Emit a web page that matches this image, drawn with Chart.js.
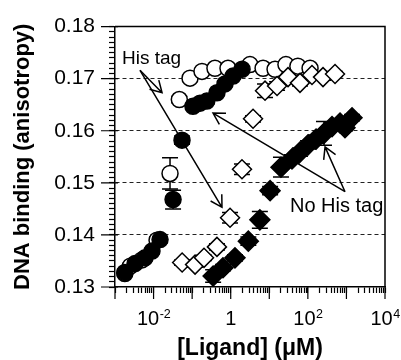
<!DOCTYPE html>
<html>
<head>
<meta charset="utf-8">
<script src="https://cdn.jsdelivr.net/npm/chart.js@4.4.1/dist/chart.umd.min.js"></script>
<style>
  html, body { margin: 0; padding: 0; background: #fff; }
</style>
</head>
<body>
<canvas id="chart" width="401" height="360"></canvas>
<script>
const FONT = "'Liberation Sans', Arial, Helvetica, sans-serif";

// ligand concentration (uM) and anisotropy
// open circles: His tag
const hisCircleX = [0.0018, 0.0025, 0.005, 0.0123, 0.0267, 0.0465, 0.088, 0.18, 0.39, 0.85, 3.16, 6.9, 14.1, 27, 55, 114];
const hisCircleY = [0.1326, 0.1340, 0.1352, 0.1390, 0.1518, 0.1660, 0.1701, 0.1714, 0.1720, 0.1720, 0.1727, 0.1720, 0.1718, 0.1727, 0.1724, 0.1720];
const hisCircleErr = [0.0005, 0.0005, 0.0005, 0.0006, 0.003, 0.0006, 0.0005, 0.0005, 0.0005, 0.0005, 0.0005, 0.0005, 0.0005, 0.0005, 0.0005, 0.0005];

// filled circles: no His tag
const noHisCircleX = [0.0018, 0.0033, 0.006, 0.0091, 0.0147, 0.032, 0.0546, 0.105, 0.16, 0.24, 0.44, 0.71, 1.15, 1.97];
const noHisCircleY = [0.1328, 0.1345, 0.1356, 0.1369, 0.1391, 0.1468, 0.1582, 0.1647, 0.1653, 0.1657, 0.1673, 0.1690, 0.1705, 0.1718];
const noHisCircleErr = [0.0006, 0.0005, 0.0005, 0.0005, 0.0006, 0.0018, 0.0008, 0.0005, 0.0005, 0.0005, 0.0005, 0.0005, 0.0005, 0.0005];

// open diamonds: His tag
const hisDiamondX = [0.055, 0.119, 0.203, 0.44, 0.96, 1.96, 3.79, 7.75, 15.9, 30.6, 62.5, 128, 247, 506];
const hisDiamondY = [0.1347, 0.1343, 0.1356, 0.1377, 0.1433, 0.1526, 0.1623, 0.1677, 0.1686, 0.1703, 0.1692, 0.1707, 0.1703, 0.1709];
const hisDiamondErr = [0.0005, 0.0005, 0.0005, 0.0006, 0.001, 0.001, 0.0006, 0.0013, 0.0008, 0.0008, 0.0006, 0.0006, 0.0006, 0.0005];

// filled diamonds: no His tag
const noHisDiamondX = [0.35, 0.63, 1.29, 2.86, 5.7, 10.5, 20.1, 38.8, 62.5, 101, 163, 262, 423, 682, 918, 1397];
const noHisDiamondY = [0.1321, 0.1337, 0.1356, 0.1388, 0.1429, 0.1485, 0.1530, 0.1546, 0.1559, 0.1573, 0.1584, 0.1595, 0.1608, 0.1615, 0.1606, 0.1625];
const noHisDiamondErr = [0.0012, 0.0006, 0.0006, 0.0008, 0.0016, 0.0008, 0.0019, 0.0008, 0.0008, 0.0008, 0.0008, 0.0023, 0.0008, 0.0006, 0.0006, 0.0006];

// axes
const yMajorTicks = [0.13, 0.14, 0.15, 0.16, 0.17, 0.18];
const xDecades = [-3, -2, -1, 0, 1, 2, 3, 4];
const xLabelled = [-2, 0, 2, 4];

// annotations (data coordinates)
const hisTagText = { text: 'His tag', x: 0.00152, y: 0.17275 };
const noHisTagText = { text: 'No His tag', x: 34.4, y: 0.14437 };
const arrows = [
  { from: [0.00445, 0.1716], to: [0.0166, 0.1673] },
  { from: [0.00445, 0.1716], to: [0.594, 0.1453] },
  { from: [918, 0.1483], to: [0.3475, 0.1634] },
  { from: [918, 0.1483], to: [279, 0.1569] }
];

const toPoints = (xs, ys) => xs.map((x, i) => ({ x: x, y: ys[i] }));

// minor ticks
const yTickValues = [];
for (let i = 0; i <= 50; i++) yTickValues.push(Math.round((0.13 + i * 0.001) * 1000) / 1000);
const isMajorY = v => Math.round(v * 1000) % 10 === 0;
const xTickValues = [];
xDecades.forEach(e => {
  for (let m = 1; m <= 9; m++) {
    if (e === 4 && m > 1) break;
    xTickValues.push(m * Math.pow(10, e));
  }
});

function drawArrow(ctx, x1, y1, x2, y2) {
  const ang = Math.atan2(y2 - y1, x2 - x1);
  const len = 13, spread = Math.PI / 6;
  ctx.beginPath();
  ctx.moveTo(x1, y1);
  ctx.lineTo(x2, y2);
  ctx.moveTo(x2 - len * Math.cos(ang - spread), y2 - len * Math.sin(ang - spread));
  ctx.lineTo(x2, y2);
  ctx.lineTo(x2 - len * Math.cos(ang + spread), y2 - len * Math.sin(ang + spread));
  ctx.stroke();
}

const extras = {
  id: 'extras',
  beforeDatasetsDraw(chart) {
    // error bars
    const { ctx, scales: { x, y } } = chart;
    ctx.save();
    ctx.strokeStyle = '#000';
    ctx.lineWidth = 1.5;
    chart.data.datasets.forEach(ds => {
      ds.data.forEach((p, j) => {
        const e = ds.err[j];
        const px = x.getPixelForValue(p.x);
        const top = y.getPixelForValue(p.y + e);
        const bot = y.getPixelForValue(p.y - e);
        ctx.beginPath();
        ctx.moveTo(px, top); ctx.lineTo(px, bot);
        ctx.moveTo(px - 8, top); ctx.lineTo(px + 8, top);
        ctx.moveTo(px - 8, bot); ctx.lineTo(px + 8, bot);
        ctx.stroke();
      });
    });
    ctx.restore();
  },
  afterDatasetsDraw(chart) {
    const { ctx, chartArea: a, scales: { x, y } } = chart;
    ctx.save();
    ctx.strokeStyle = '#000';
    ctx.lineWidth = 1.5;
    arrows.forEach(ar => {
      drawArrow(ctx,
        x.getPixelForValue(ar.from[0]), y.getPixelForValue(ar.from[1]),
        x.getPixelForValue(ar.to[0]), y.getPixelForValue(ar.to[1]));
    });
    ctx.fillStyle = '#000';
    ctx.textAlign = 'left';
    ctx.textBaseline = 'alphabetic';
    ctx.font = '19px ' + FONT;
    ctx.fillText(hisTagText.text, x.getPixelForValue(hisTagText.x), y.getPixelForValue(hisTagText.y));
    ctx.font = '20px ' + FONT;
    ctx.fillText(noHisTagText.text, x.getPixelForValue(noHisTagText.x), y.getPixelForValue(noHisTagText.y));

    // frame top and right
    ctx.beginPath();
    ctx.moveTo(a.left, a.top); ctx.lineTo(a.right, a.top); ctx.lineTo(a.right, a.bottom);
    ctx.stroke();

    // longer major ticks
    ctx.lineWidth = 1.2;
    ctx.beginPath();
    yMajorTicks.forEach(v => {
      const py = y.getPixelForValue(v);
      ctx.moveTo(a.left - 14, py); ctx.lineTo(a.left + 3, py);
    });
    xDecades.forEach(e => {
      const px = x.getPixelForValue(Math.pow(10, e));
      ctx.moveTo(px, a.bottom); ctx.lineTo(px, a.bottom + 12);
    });
    ctx.stroke();

    // x tick labels with superscript exponents
    const base = 325;
    xLabelled.forEach(e => {
      const px = x.getPixelForValue(Math.pow(10, e));
      ctx.textAlign = 'left';
      if (e === 0) {
        ctx.font = '20px ' + FONT;
        const w = ctx.measureText('1').width;
        ctx.fillText('1', px - w / 2, base);
        return;
      }
      const sup = String(e);
      ctx.font = '20px ' + FONT;
      const w1 = ctx.measureText('10').width;
      ctx.font = '12.5px ' + FONT;
      const w2 = ctx.measureText(sup).width;
      const left = px - (w1 + w2) / 2;
      ctx.font = '20px ' + FONT;
      ctx.fillText('10', left, base);
      ctx.font = '12.5px ' + FONT;
      ctx.fillText(sup, left + w1 + 0.5, base - 7);
    });
    ctx.restore();
  }
};

new Chart(document.getElementById('chart'), {
  type: 'scatter',
  data: {
    datasets: [
      {
        label: 'No His tag (diamonds)',
        data: toPoints(noHisDiamondX, noHisDiamondY),
        err: noHisDiamondErr,
        pointStyle: 'rectRot', pointRadius: 10,
        backgroundColor: '#000', borderColor: '#000', borderWidth: 1.5
      },
      {
        label: 'His tag (diamonds)',
        data: toPoints(hisDiamondX, hisDiamondY),
        err: hisDiamondErr,
        pointStyle: 'rectRot', pointRadius: 9.5,
        backgroundColor: '#fff', borderColor: '#000', borderWidth: 1.5
      },
      {
        label: 'No His tag (circles)',
        data: toPoints(noHisCircleX, noHisCircleY),
        err: noHisCircleErr,
        pointStyle: 'circle', pointRadius: 8,
        backgroundColor: '#000', borderColor: '#000', borderWidth: 1.5
      },
      {
        label: 'His tag (circles)',
        data: toPoints(hisCircleX, hisCircleY),
        err: hisCircleErr,
        pointStyle: 'circle', pointRadius: 8,
        backgroundColor: '#fff', borderColor: '#000', borderWidth: 1.5
      }
    ]
  },
  options: {
    responsive: false,
    animation: false,
    layout: { padding: { top: 19, right: 16, left: 0, bottom: 0 } },
    plugins: { legend: { display: false }, tooltip: { enabled: false } },
    scales: {
      x: {
        type: 'logarithmic',
        min: 1e-3,
        max: 1e4,
        afterBuildTicks: s => { s.ticks = xTickValues.map(v => ({ value: v })); },
        afterFit: s => { s.height = 73; },
        ticks: { display: false },
        grid: { drawOnChartArea: false, tickColor: '#000', tickLength: 6, tickWidth: 1.2 },
        border: { color: '#000', width: 1.5 },
        title: {
          display: true,
          text: '[Ligand] (μM)',
          color: '#000',
          font: { family: FONT, size: 23, weight: 'bold', lineHeight: 1 },
          padding: { top: 0, bottom: 0 }
        }
      },
      y: {
        type: 'linear',
        min: 0.13,
        max: 0.18,
        afterBuildTicks: s => { s.ticks = yTickValues.map(v => ({ value: v })); },
        afterFit: s => { s.width = 115; },
        ticks: {
          autoSkip: false,
          padding: 14,
          color: '#000',
          font: { family: FONT, size: 21 },
          callback: v => isMajorY(v) ? v.toFixed(2) : ''
        },
        grid: {
          color: c => (c.tick && isMajorY(c.tick.value) && c.tick.value > 0.135 && c.tick.value < 0.175) ? '#222' : 'rgba(0,0,0,0)',
          lineWidth: 1,
          tickColor: '#000',
          tickLength: 6,
          tickWidth: 1.2,
          tickBorderDash: []
        },
        border: { color: '#000', width: 1.5, dash: [4, 3] },
        title: {
          display: true,
          text: 'DNA binding (anisotropy)',
          color: '#000',
          font: { family: FONT, size: 22, weight: 'bold', lineHeight: 1 },
          padding: { top: 12, bottom: 0 }
        }
      }
    }
  },
  plugins: [extras]
});
</script>
</body>
</html>
